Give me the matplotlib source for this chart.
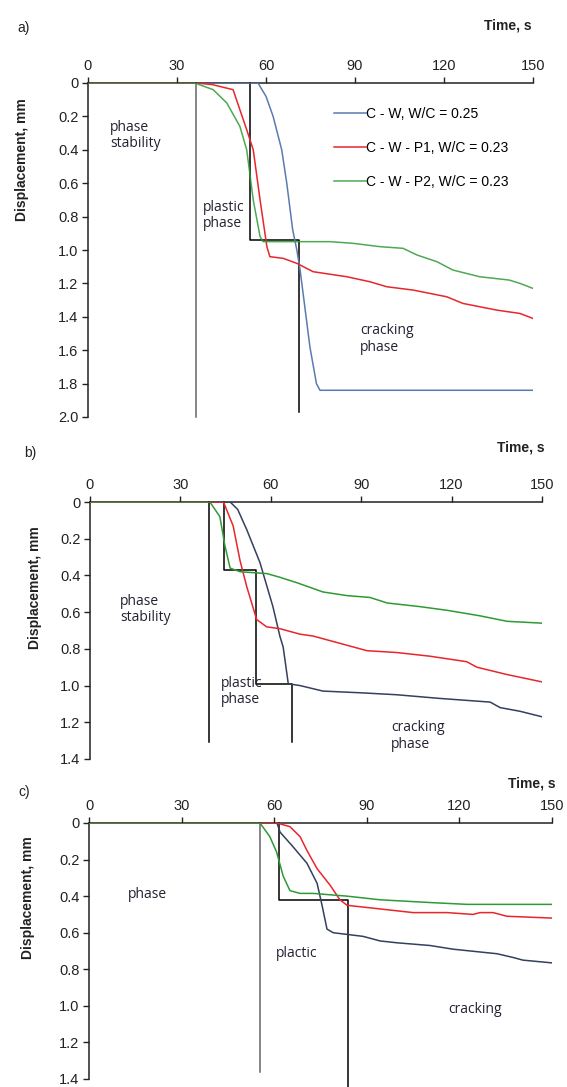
import matplotlib
matplotlib.use("Agg")
import matplotlib.pyplot as plt
from matplotlib.ticker import FuncFormatter

# ---------------- data ----------------
series_labels = ["C - W, W/C = 0.25", "C - W - P1, W/C = 0.23", "C - W - P2, W/C = 0.23"]
x_ticks = [0, 30, 60, 90, 120, 150]

# panel a
a_blue_t = [0, 57.3, 60, 62.4, 65.3, 67, 69, 70.4, 71.5, 74.8, 77, 78.2, 150]
a_blue_d = [0, 0, 0.08, 0.2, 0.4, 0.6, 0.88, 1.0, 1.12, 1.58, 1.8, 1.84, 1.84]
a_red_t = [0, 36.7, 42, 48.9, 53.5, 55.7, 58, 60.3, 61.3, 65.8, 70.4, 75.9, 87.2, 95, 100.7, 109.6,
           120.9, 126.4, 137.8, 145.6, 150]
a_red_d = [0, 0, 0.01, 0.04, 0.28, 0.4, 0.7, 0.98, 1.04, 1.05, 1.08, 1.13, 1.16, 1.19, 1.22, 1.24,
           1.28, 1.32, 1.36, 1.38, 1.41]
a_green_t = [0, 36, 42.2, 46.8, 51.2, 53.5, 55.7, 58, 59, 81.6, 89.3, 98.4, 106.2, 110.9, 117.6,
             123, 132, 142, 145.6, 150]
a_green_d = [0, 0, 0.04, 0.12, 0.26, 0.4, 0.7, 0.92, 0.95, 0.95, 0.96, 0.98, 0.99, 1.03, 1.07,
             1.12, 1.16, 1.18, 1.2, 1.23]

# panel b
b_blue_t = [0, 46.5, 49, 52, 56.4, 60.7, 63, 64.1, 64.7, 65.8, 69.7, 77.3, 90.6, 101.8, 116.1,
            132.8, 136.1, 142.7, 150]
b_blue_d = [0, 0, 0.04, 0.15, 0.33, 0.57, 0.73, 0.79, 0.86, 0.99, 1.0, 1.03, 1.04, 1.05, 1.07,
            1.09, 1.12, 1.14, 1.17]
b_red_t = [0, 44.3, 47.5, 49.8, 52, 55.3, 58.6, 63, 69.7, 74, 85.2, 91.9, 101.8, 112.8, 125,
           128.4, 138.4, 150]
b_red_d = [0, 0, 0.13, 0.32, 0.46, 0.64, 0.68, 0.69, 0.72, 0.73, 0.78, 0.81, 0.82, 0.84, 0.87,
           0.9, 0.94, 0.98]
b_green_t = [0, 39.8, 43.1, 44.8, 46.5, 49.8, 58.7, 63, 68.7, 77.3, 85.3, 92.9, 98.6, 109.5,
             118.5, 129.4, 138.4, 150]
b_green_d = [0, 0, 0.08, 0.24, 0.36, 0.38, 0.39, 0.41, 0.44, 0.49, 0.51, 0.52, 0.55, 0.57,
             0.59, 0.62, 0.65, 0.66]

# panel c
c_blue_t = [0, 60.9, 61.9, 66.1, 70.6, 73.9, 75.5, 77.1, 79.1, 88.8, 94.3, 99.7, 110.5, 117.9,
            132.2, 137.3, 140.6, 150]
c_blue_d = [0, 0, 0.05, 0.13, 0.22, 0.33, 0.45, 0.58, 0.6, 0.62, 0.645, 0.655, 0.67, 0.69,
            0.715, 0.735, 0.75, 0.765]
c_red_t = [0, 60.9, 65.1, 68.4, 70.6, 73.9, 78.1, 81.3, 83.6, 94.3, 105, 116, 124.4, 126.7,
           130.9, 135.4, 150]
c_red_d = [0, 0, 0.02, 0.075, 0.15, 0.25, 0.34, 0.42, 0.45, 0.47, 0.49, 0.49, 0.5, 0.49,
           0.49, 0.51, 0.52]
c_green_t = [0, 55.4, 58.6, 60.8, 62.9, 65.1, 68.4, 72.6, 83.6, 94.3, 110.5, 122.5, 150]
c_green_d = [0, 0, 0.075, 0.16, 0.29, 0.37, 0.385, 0.385, 0.40, 0.42, 0.435, 0.445, 0.445]

# phase boundary lines (time, displacement)
a_bound1_t = [36.4, 36.4]
a_bound1_d = [0, 2.0]
a_bound2_t = [54.6, 54.6, 71.1, 71.1]
a_bound2_d = [0, 0.94, 0.94, 1.97]
b_bound1_t = [39.6, 39.6]
b_bound1_d = [0, 1.31]
b_bound2_t = [44.5, 44.5, 55.1, 55.1, 67, 67]
b_bound2_d = [0, 0.37, 0.37, 0.99, 0.99, 1.31]
c_bound1_t = [55.4, 55.4]
c_bound1_d = [0, 1.36]
c_bound2_t = [61.5, 61.5, 84, 84]
c_bound2_d = [0, 0.42, 0.42, 1.45]

# ---------------- figure ----------------
W, H = 567, 1087
fig = plt.figure(figsize=(W / 100, H / 100), dpi=100)
fig.patch.set_facecolor("white")

TICK_FONT = "Liberation Sans"
ANN_FONT = "Open Sans"

BLUE_A = "#5a7bb0"
BLUE = "#34405c"
RED = "#e8262b"
GREEN = "#2f9a35"


def rect(l, r, t, b):
    return [l / W, 1 - b / H, (r - l) / W, (b - t) / H]


def fmt(v, pos):
    return "0" if abs(v) < 1e-9 else f"{v:.1f}"


def style(ax, ymax):
    ax.set_xlim(0, 150)
    ax.set_ylim(ymax, 0)
    ax.xaxis.tick_top()
    ax.spines["right"].set_visible(False)
    ax.spines["bottom"].set_visible(False)
    for s in ("top", "left"):
        ax.spines[s].set_linewidth(1.1)
        ax.spines[s].set_color("#222222")
    ax.set_xticks(x_ticks)
    ax.set_yticks([round(0.2 * i, 1) for i in range(int(round(ymax / 0.2)) + 1)])
    ax.yaxis.set_major_formatter(FuncFormatter(fmt))
    ax.tick_params(direction="out", length=4, width=1.0, color="#222222",
                   labelsize=10.5, pad=3)
    for lab in ax.get_xticklabels() + ax.get_yticklabels():
        lab.set_fontfamily(TICK_FONT)
        lab.set_color("#222222")


def phase_lines(ax, t1, d1, t2, d2, c1="#555555"):
    ax.plot(t1, d1, color=c1, lw=1.1, clip_on=False, zorder=1)
    ax.plot(t2, d2, color="black", lw=1.1, clip_on=False, zorder=1)


def ann(ax, x, y, s):
    ax.text(x, y, s, fontsize=10, family=ANN_FONT, color="#222233",
            va="top", ha="left", linespacing=1.1, zorder=5)


ylabel_kw = dict(fontsize=10, fontweight="bold", family=TICK_FONT, color="#222222")

# ---------- panel a ----------
axa = fig.add_axes(rect(88, 533, 83, 417))
style(axa, 2.0)
phase_lines(axa, a_bound1_t, a_bound1_d, a_bound2_t, a_bound2_d, c1="#666666")
la1, = axa.plot(a_blue_t, a_blue_d, color=BLUE_A, lw=1.1, zorder=3)
la2, = axa.plot(a_red_t, a_red_d, color=RED, lw=1.1, zorder=3)
la3, = axa.plot(a_green_t, a_green_d, color=GREEN, lw=1.1, zorder=3, alpha=0.85)
axa.legend([la1, la2, la3], series_labels, loc="upper left",
           bbox_to_anchor=(0.54, 0.945), frameon=False, handlelength=2.3,
           handletextpad=0.0, labelspacing=1.45, borderaxespad=0,
           prop={"family": TICK_FONT, "size": 10})
ann(axa, 7.4, 0.22, "phase\nstability")
ann(axa, 38.8, 0.70, "plastic\nphase")
ann(axa, 91.7, 1.44, "cracking\nphase")
fig.text(22 / W, 1 - 160 / H, "Displacement, mm", rotation=90, ha="center", va="center", **ylabel_kw)
fig.text(508 / W, 1 - 25 / H, "Time, s", ha="center", va="center", **ylabel_kw)
fig.text(24 / W, 1 - 28 / H, "a)", ha="center", va="center", fontsize=10,
         family=TICK_FONT, color="#222222")

# ---------- panel b ----------
axb = fig.add_axes(rect(90, 542, 502, 759))
style(axb, 1.4)
phase_lines(axb, b_bound1_t, b_bound1_d, b_bound2_t, b_bound2_d, c1="black")
axb.plot(b_blue_t, b_blue_d, color=BLUE, lw=1.1, zorder=3)
axb.plot(b_red_t, b_red_d, color=RED, lw=1.1, zorder=3)
axb.plot(b_green_t, b_green_d, color=GREEN, lw=1.1, zorder=3)
ann(axb, 10, 0.50, "phase\nstability")
ann(axb, 43.5, 0.95, "plastic\nphase")
ann(axb, 100, 1.19, "cracking\nphase")
fig.text(35 / W, 1 - 588 / H, "Displacement, mm", rotation=90, ha="center", va="center", **ylabel_kw)
fig.text(521 / W, 1 - 448 / H, "Time, s", ha="center", va="center", **ylabel_kw)
fig.text(30 / W, 1 - 453 / H, "b)", ha="center", va="center", fontsize=10,
         family=TICK_FONT, color="#222222")

# ---------- panel c ----------
axc = fig.add_axes(rect(89, 552, 823, 1079))
style(axc, 1.4)
phase_lines(axc, c_bound1_t, c_bound1_d, c_bound2_t, c_bound2_d, c1="#666666")
axc.plot(c_blue_t, c_blue_d, color=BLUE, lw=1.1, zorder=3)
axc.plot(c_red_t, c_red_d, color=RED, lw=1.1, zorder=3)
axc.plot(c_green_t, c_green_d, color=GREEN, lw=1.1, zorder=3)
ann(axc, 12.7, 0.35, "phase")
ann(axc, 60.6, 0.67, "plactic")
ann(axc, 116.3, 0.98, "cracking")
fig.text(28 / W, 1 - 898 / H, "Displacement, mm", rotation=90, ha="center", va="center", **ylabel_kw)
fig.text(532 / W, 1 - 783 / H, "Time, s", ha="center", va="center", **ylabel_kw)
fig.text(24 / W, 1 - 792 / H, "c)", ha="center", va="center", fontsize=10,
         family=TICK_FONT, color="#222222")

fig.savefig("out.png", dpi=100, facecolor="white")
